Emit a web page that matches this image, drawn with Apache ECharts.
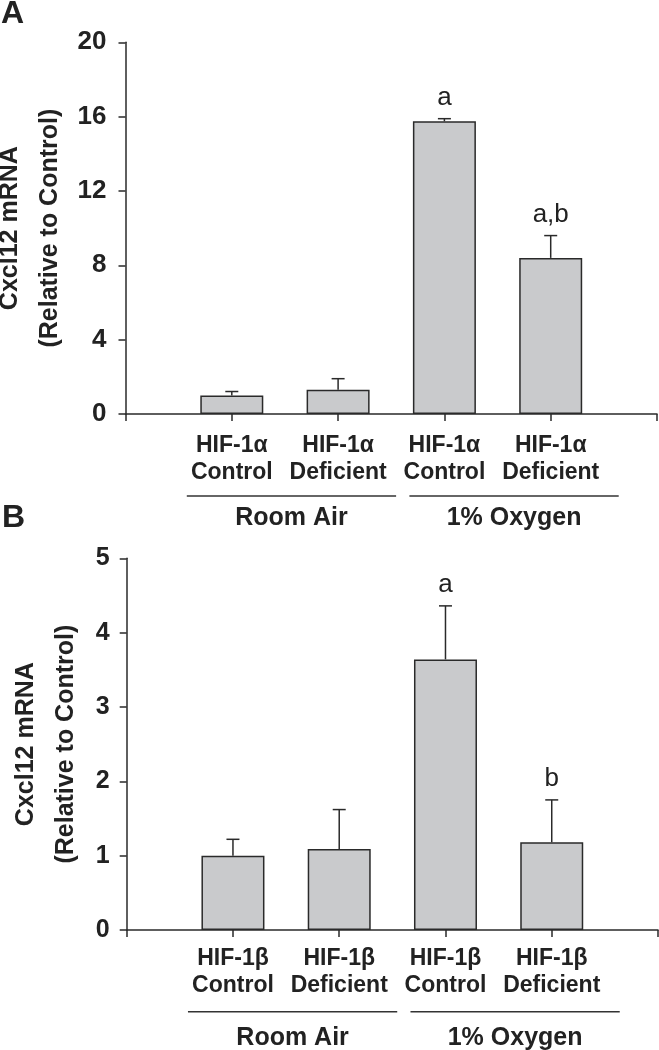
<!DOCTYPE html>
<html>
<head>
<meta charset="utf-8">
<script src="https://cdn.jsdelivr.net/npm/echarts@6/dist/echarts.min.js"></script>
<style>
html,body{margin:0;padding:0;background:#fff;}
#chart{width:659px;height:1050px;}
</style>
</head>
<body>
<div id="chart"></div>
<script>
// ---- data ----
const geneA = 'HIF-1α';
const geneB = 'HIF-1β';
const conditions = ['Control', 'Deficient', 'Control', 'Deficient'];
const groups = ['Room Air', '1% Oxygen'];
const groupMembers = [[1, 2], [3, 4]];
const valuesA = [1.0, 1.3, 15.75, 8.4];
const errorsA = [0.21, 0.6, 0.14, 1.2];
const lettersA = ['', '', 'a', 'a,b'];
const valuesB = [1.0, 1.09, 3.64, 1.18];
const errorsB = [0.22, 0.53, 0.72, 0.57];
const lettersB = ['', '', 'a', 'b'];
const yTitle = 'Cxcl12 mRNA\n(Relative to Control)';
const panelLabels = ['A', 'B'];

// ---- styles ----
const FONT = '"Liberation Sans", Arial, sans-serif';
const TXT = '#222';
const AX = '#2a2a2a';
const BARFILL = '#c9cacc';

function cats(gene) {
  return [''].concat(conditions.map(c => gene + '\n' + c)).concat(['']);
}
function barData(vals) { return vals.map((v, i) => [i + 1, v]); }
function errData(vals, errs) { return vals.map((v, i) => [i + 1, v, errs[i]]); }

function makeErr(letters) {
  return function (params, api) {
    const x = api.value(0), m = api.value(1), e = api.value(2);
    const p0 = api.coord([x, m]);
    const p1 = api.coord([x, m + e]);
    const half = 6.5;
    const st = { stroke: AX, lineWidth: 1.5 };
    const ch = [
      { type: 'line', shape: { x1: p0[0], y1: p0[1], x2: p1[0], y2: p1[1] }, style: st },
      { type: 'line', shape: { x1: p1[0] - half, y1: p1[1], x2: p1[0] + half, y2: p1[1] }, style: st }
    ];
    const t = letters[params.dataIndex];
    if (t) {
      ch.push({ type: 'text', style: { x: p1[0], y: p1[1] - 8, text: t, fill: TXT,
        font: '400 26px ' + FONT, align: 'center', verticalAlign: 'bottom' } });
    }
    return { type: 'group', children: ch };
  };
}

function xAxis(gi, gene, margin) {
  return {
    type: 'category', gridIndex: gi, data: cats(gene), boundaryGap: false,
    axisLine: { lineStyle: { color: AX, width: 1.5 } },
    axisTick: { show: true, interval: 0, length: 7, lineStyle: { color: AX, width: 1.5 } },
    axisLabel: { interval: 0, margin: margin, color: TXT, fontFamily: FONT, fontWeight: 'bold',
      fontSize: 23, lineHeight: 27 },
    splitLine: { show: false }
  };
}
function yAxis(gi, max, interval, gap, fs, margin) {
  return {
    type: 'value', gridIndex: gi, min: 0, max: max, interval: interval,
    name: yTitle, nameLocation: 'middle', nameRotate: 90, nameGap: gap, nameMoveOverlap: false,
    nameTextStyle: { color: TXT, fontFamily: FONT, fontWeight: 'bold', fontSize: 25, lineHeight: 40 },
    axisLine: { show: true, lineStyle: { color: AX, width: 1.5 } },
    axisTick: { show: true, length: 7, lineStyle: { color: AX, width: 1.5 } },
    axisLabel: { margin: margin, color: TXT, fontFamily: FONT, fontWeight: 'bold', fontSize: fs },
    splitLine: { show: false }
  };
}
function bars(i, vals) {
  return {
    type: 'bar', xAxisIndex: i, yAxisIndex: i, data: barData(vals), barWidth: 63,
    itemStyle: { color: BARFILL, borderColor: AX, borderWidth: 1.5 }, silent: true, z: 2
  };
}
function errs(i, vals, es, letters) {
  return {
    type: 'custom', xAxisIndex: i, yAxisIndex: i, data: errData(vals, es),
    renderItem: makeErr(letters), silent: true, z: 3
  };
}

const chart = echarts.init(document.getElementById('chart'), null, { renderer: 'canvas' });
chart.setOption({
  animation: false,
  backgroundColor: '#fff',
  grid: [
    { left: 125.5, top: 42.3, width: 531.5, height: 371.7, outerBoundsMode: 'none', containLabel: false },
    { left: 126.7, top: 558.3, width: 531.3, height: 371.7, outerBoundsMode: 'none', containLabel: false }
  ],
  xAxis: [xAxis(0, geneA, 18), xAxis(1, geneB, 15)],
  yAxis: [yAxis(0, 20, 4, 55, 26, 19), yAxis(1, 5, 1, 41, 25, 17)],
  series: [
    bars(0, valuesA), errs(0, valuesA, errorsA, lettersA),
    bars(1, valuesB), errs(1, valuesB, errorsB, lettersB)
  ]
});

// group labels, underlines and panel letters
const els = [];
const panelY = [[414, 496, 518], [930, 1011.7, 1038]];
const panelLetterPos = [[1, 14], [2, 518]];
[0, 1].forEach(pi => {
  const lineY = panelY[pi][1], textY = panelY[pi][2];
  groups.forEach((g, gi) => {
    const a = chart.convertToPixel({ xAxisIndex: pi }, groupMembers[gi][0]);
    const b = chart.convertToPixel({ xAxisIndex: pi }, groupMembers[gi][1]);
    const sh = gi === 0 ? 0 : 10;
    const x1 = a - 45 + sh, x2 = b + 58 + sh;
    els.push({ type: 'line', silent: true,
      shape: { x1: x1, y1: lineY, x2: x2, y2: lineY },
      style: { stroke: '#333', lineWidth: 1.5 } });
    els.push({ type: 'text', silent: true,
      style: { x: (x1 + x2) / 2, y: textY, text: g, fill: TXT,
        font: 'bold 25px ' + FONT, align: 'center', verticalAlign: 'middle' } });
  });
  els.push({ type: 'text', silent: true,
    style: { x: panelLetterPos[pi][0], y: panelLetterPos[pi][1], text: panelLabels[pi], fill: TXT,
      font: 'bold 32px ' + FONT, align: 'left', verticalAlign: 'middle' } });
});
chart.setOption({ graphic: { elements: els } });
</script>
</body>
</html>
